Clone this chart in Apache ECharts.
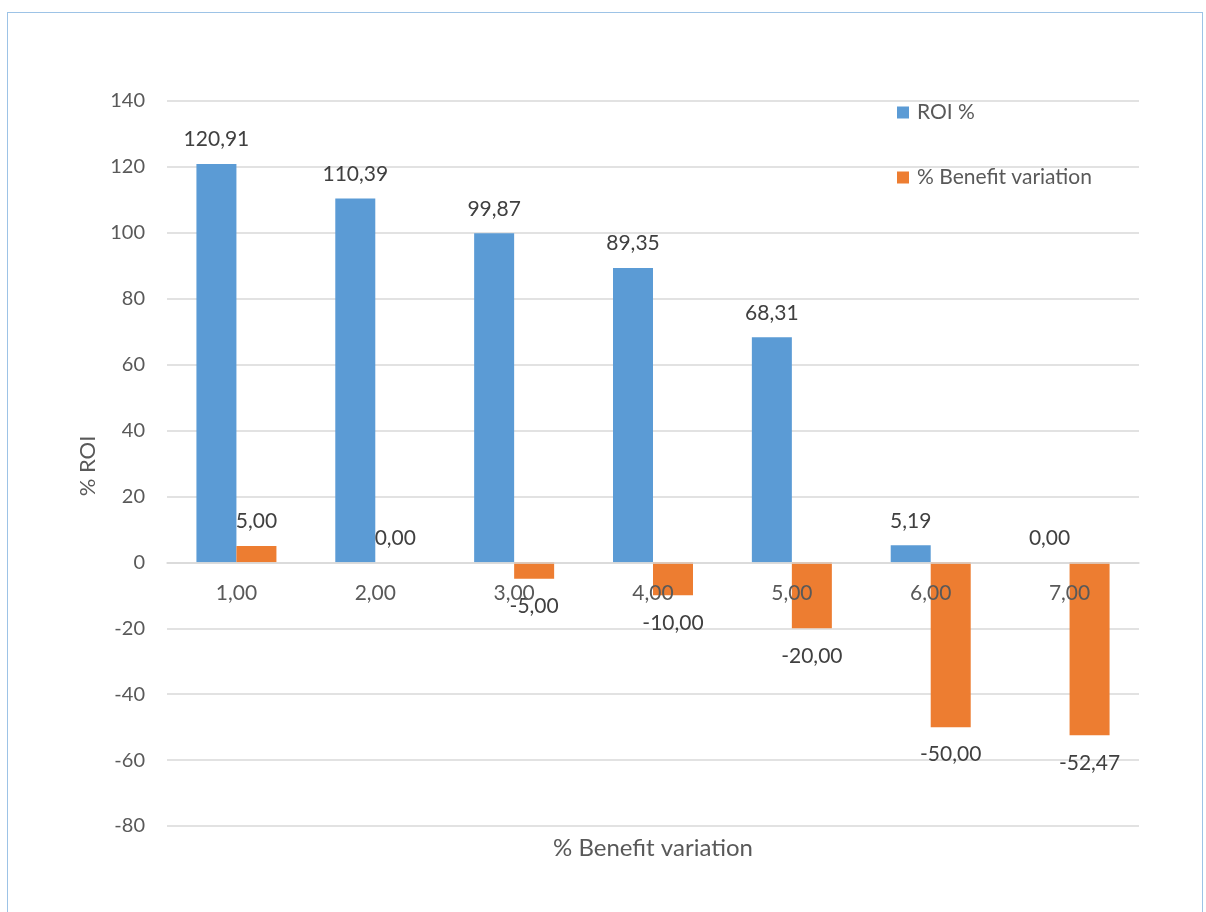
<!DOCTYPE html>
<html>
<head>
<meta charset="utf-8">
<script src="https://cdn.jsdelivr.net/npm/echarts@6/dist/echarts.min.js"></script>
<style>
html,body{margin:0;padding:0;background:#fff;}
#wrap{position:relative;width:1206px;height:912px;overflow:hidden;}
#border{position:absolute;left:7px;top:12px;width:1196px;height:960px;border:1.5px solid #9dc3e6;box-sizing:border-box;}
#chart{position:absolute;left:0;top:0;width:1206px;height:912px;}
</style>
</head>
<body>
<div id="wrap"><div id="border"></div><div id="chart"></div></div>
<script>
const categories = ['1,00','2,00','3,00','4,00','5,00','6,00','7,00'];
const roiValues = [120.91, 110.39, 99.87, 89.35, 68.31, 5.19, 0.00];
const benefitValues = [5.00, 0.00, -5.00, -10.00, -20.00, -50.00, -52.47];
const seriesNames = ['ROI %', '% Benefit variation'];
const xAxisTitle = '% Benefit variation';
const yAxisTitle = '% ROI';
const yMin = -80, yMax = 140, yStep = 20;

const FONT = 'Lato, "Open Sans", sans-serif';
const GRID_TOP = 101, GRID_BOTTOM = 86, H = 912;
const plotH = H - GRID_TOP - GRID_BOTTOM;
const zeroOffset = -plotH * (0 - yMin) / (yMax - yMin);

const fmt = p => p.value.toFixed(2).replace('.', ',');
function withLabels(values) {
  return values.map(v => ({
    value: v,
    label: {position: v < 0 ? 'bottom' : 'top', distance: v < 0 ? 17 : 14}
  }));
}
const chart = echarts.init(document.getElementById('chart'), null, {renderer:'canvas'});
const labelCfg = {show:true, formatter:fmt, color:'#404040', fontSize:21, fontFamily:FONT};
chart.setOption({
  animation:false,
  grid:{left:167, right:67, top:GRID_TOP, bottom:GRID_BOTTOM, containLabel:false},
  legend:{orient:'vertical', left:892, top:97, itemWidth:12, itemHeight:12, itemGap:44,
    icon:'rect', textStyle:{color:'#595959', fontSize:21, fontFamily:FONT, padding:[0,0,0,3]}, data:seriesNames},
  xAxis:{type:'category', data:categories, offset: zeroOffset, z:10,
    axisLine:{onZero:false, lineStyle:{color:'#d9d9d9', width:1.5}},
    axisTick:{show:false},
    axisLabel:{color:'#595959', fontSize:21, fontFamily:FONT, margin:20}},
  yAxis:{type:'value', min:yMin, max:yMax, interval:yStep,
    axisLine:{show:false}, axisTick:{show:false},
    splitLine:{lineStyle:{color:'#d9d9d9', width:1.5}},
    axisLabel:{color:'#595959', fontSize:20, fontFamily:FONT, margin:22}},
  graphic:[
    {type:'text', x:653, y:848, style:{text:xAxisTitle, fill:'#595959', font:'24px '+FONT, textAlign:'center', textVerticalAlign:'middle'}},
    {type:'text', x:88, y:466, rotation:Math.PI/2, style:{text:yAxisTitle, fill:'#595959', font:'22px '+FONT, textAlign:'center', textVerticalAlign:'middle'}}
  ],
  series:[
    {name:seriesNames[0], type:'bar', data:withLabels(roiValues), barWidth:40, barGap:'0%', itemStyle:{color:'#5b9bd5'}, label:labelCfg},
    {name:seriesNames[1], type:'bar', data:withLabels(benefitValues), barWidth:40, barGap:'0%', itemStyle:{color:'#ed7d31'}, label:labelCfg}
  ]
});
</script>
</body>
</html>
